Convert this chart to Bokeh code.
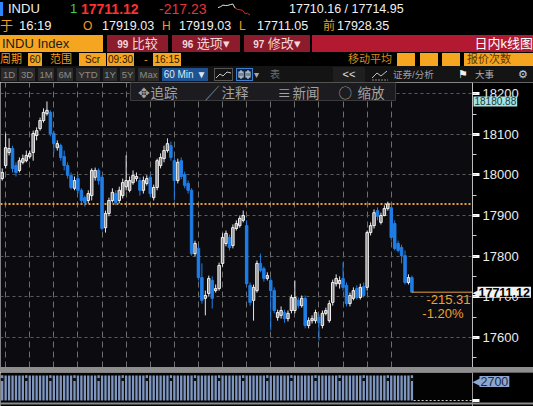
import numpy as np
from bokeh.plotting import figure
from bokeh.models import (Range1d, Span, Label, BoxAnnotation, FixedTicker, LinearAxis,
                          SingleIntervalTicker, Div, ColumnDataSource)
from bokeh.layouts import column
from bokeh.embed import file_html
from bokeh.resources import INLINE

# ---------------- data (INDU, 60-minute bars) ----------------
opens = [17991, 18023, 18055, 18065, 18023, 18011, 18031, 18035, 18045, 18055,
         18097, 18114, 18134, 18151, 18154, 18102, 18067, 18072, 18045, 18023,
         17999, 17967, 17991, 17962, 17944, 17937, 17949, 17994, 18011, 17994,
         17870, 17905, 17937, 17954, 17937, 17949, 17971, 17962, 17981, 17991,
         17986, 17962, 17979, 17994, 17944, 17969, 18023, 18040, 18060, 18072,
         18035, 17986, 18035, 18001, 17979, 17962, 17806, 17819, 17747, 17696,
         17708, 17740, 17715, 17720, 17782, 17831, 17846, 17826, 17868, 17875,
         17888, 17875, 17728, 17691, 17715, 17782, 17769, 17745, 17740, 17715,
         17649, 17654, 17661, 17646, 17666, 17666, 17691, 17678, 17696, 17629,
         17641, 17641, 17649, 17629, 17659, 17641, 17686, 17732, 17732, 17745,
         17728, 17683, 17696, 17720, 17698, 17725, 17723, 17858, 17875, 17912,
         17883, 17900, 17917, 17919.03, 17880, 17831, 17821, 17801, 17735, 17747]
highs = [18016, 18102, 18090, 18072, 18031, 18043, 18050, 18060, 18060, 18109,
         18117, 18141, 18164, 18180.88, 18159, 18109, 18085, 18077, 18060, 18031,
         18006, 17996, 17999, 17967, 17949, 17962, 18016, 18018, 18016, 17999,
         17912, 17944, 17967, 17962, 17971, 17991, 18048, 17996, 18011, 18006,
         17994, 17996, 17999, 18001, 17976, 18040, 18053, 18072, 18090, 18082,
         18043, 18040, 18043, 18008, 17986, 17967, 17838, 17826, 17782, 17715,
         17752, 17750, 17730, 17784, 17856, 17863, 17853, 17878, 17888, 17900,
         17912, 17888, 17735, 17730, 17789, 17806, 17774, 17760, 17747, 17723,
         17668, 17676, 17668, 17666, 17705, 17740, 17698, 17703, 17703, 17649,
         17654, 17668, 17656, 17666, 17673, 17691, 17742, 17755, 17750, 17784,
         17735, 17710, 17723, 17728, 17732, 17735, 17863, 17883, 17915, 17920,
         17907, 17925, 17934, 17919.03, 17888, 17838, 17828, 17814, 17755, 17752]
lows = [17986, 18016, 18048, 18006, 17996, 18006, 18026, 18031, 18040, 18035,
        18085, 18109, 18129, 18146, 18095, 18055, 18060, 18035, 18011, 17991,
        17964, 17962, 17954, 17930, 17922, 17930, 17937, 17986, 17976, 17863,
        17858, 17898, 17932, 17925, 17930, 17942, 17962, 17957, 17976, 17984,
        17949, 17954, 17974, 17947, 17937, 17962, 18016, 18031, 18055, 18035,
        17937, 17979, 17989, 17967, 17954, 17801, 17799, 17740, 17683, 17654,
        17700, 17671, 17710, 17715, 17774, 17824, 17814, 17819, 17863, 17870,
        17883, 17728, 17678, 17641, 17710, 17760, 17737, 17740, 17617, 17659,
        17641, 17646, 17636, 17639, 17659, 17659, 17671, 17673, 17622, 17622,
        17634, 17634, 17592, 17622, 17654, 17636, 17678, 17725, 17720, 17715,
        17676, 17676, 17691, 17693, 17693, 17698, 17715, 17851, 17868, 17888,
        17878, 17898, 17912, 17838, 17814, 17809, 17782, 17730, 17730, 17711.05]
closes = [18006, 18067, 18065, 18016, 18006, 18035, 18040, 18048, 18053, 18102,
          18109, 18134, 18154, 18159, 18102, 18077, 18077, 18043, 18023, 17999,
          17969, 17986, 17962, 17937, 17932, 17954, 18011, 18011, 17986, 17868,
          17905, 17937, 17957, 17932, 17962, 17981, 17986, 17986, 17999, 17996,
          17962, 17986, 17991, 17954, 17969, 18035, 18043, 18060, 18077, 18043,
          17986, 18031, 17996, 17974, 17962, 17806, 17831, 17747, 17691, 17703,
          17745, 17696, 17720, 17777, 17846, 17856, 17821, 17870, 17880, 17893,
          17900, 17732, 17686, 17723, 17782, 17765, 17745, 17752, 17715, 17666,
          17661, 17666, 17646, 17659, 17698, 17698, 17678, 17696, 17629, 17641,
          17646, 17661, 17636, 17659, 17666, 17683, 17735, 17745, 17740, 17723,
          17683, 17703, 17715, 17698, 17723, 17703, 17858, 17875, 17907, 17898,
          17900, 17917, 17928.35, 17846, 17819, 17814, 17801, 17735, 17747, 17711.12]
volumes = [3578, 3552, 3560, 3548, 3566, 3555, 3561, 3582, 3549, 3557,
           3562, 3551, 3568, 3554, 3585, 3553, 3559, 3550, 3564, 3556,
           3561, 3579, 3551, 3566, 3548, 3558, 3562, 3553, 3581, 3556,
           3549, 3567, 3552, 3560, 3555, 3584, 3550, 3563, 3557, 3552,
           3565, 3551, 3580, 3558, 3549, 3562, 3554, 3566, 3550, 3583,
           3557, 3563, 3551, 3568, 3554, 3559, 3586, 3552, 3560, 3549,
           3564, 3556, 3553, 3581, 3550, 3561, 3555, 3567, 3551, 3558,
           3582, 3553, 3562, 3549, 3565, 3557, 3552, 3584, 3556, 3550,
           3563, 3551, 3559, 3554, 3580, 3552, 3566, 3550, 3561, 3555,
           3558, 3583, 3551, 3564, 3553, 3560, 3549, 3567, 3581, 3555,
           3550, 3562, 3557, 3552, 3565, 3579, 3556, 3553, 3561, 3549,
           3566, 3554, 3585, 3551, 3560, 3555, 3563, 3550, 3558, 3587]

bars_per_day = 7
first_day_bar = 1
prev_close = 17928.35
range_high = 18180.88
net_change_text = "-215.31"
pct_change_text = "-1.20%"
volume_mark = 2700

q_last = "17711.12"
q_change = "-217.23"
q_bid_ask = "17710.16 / 17714.95"
q_time = "16:19"
q_open = "17919.03"
q_high = "17919.03"
q_low = "17711.05"
q_prev = "17928.35"

# ---------------- layout helpers (pixel geometry) ----------------
PX_PER_BAR = 3.443
BAR0_PX = 1.7
PX_PER_PT = 0.406
REF_Y_17900 = 215.0


def px2x(px):
    return (px - BAR0_PX) / PX_PER_BAR


def py2y(py):
    return 17900 + (REF_Y_17900 - py) / PX_PER_PT


N = len(closes)
X_START, X_END = px2x(0), px2x(533)
AXIS_X = px2x(472)
Y_END, Y_START = py2y(82), py2y(367)
FONT = "Liberation Sans"
ORANGE = "#f0a030"

# ---------------- header (HTML) ----------------
F = "'Liberation Sans','Noto Sans CJK SC',sans-serif"
OR = "#f39c1f"
DARK = "#2a1800"


def cell(x, y, w, h, txt="", color="#f0f0f0", bg="transparent", size=13, weight="normal",
         align="left", pad=0, border=None):
    st = (f"position:absolute;left:{x}px;top:{y}px;width:{w}px;height:{h}px;line-height:{h}px;"
          f"color:{color};background:{bg};font-size:{size}px;font-weight:{weight};text-align:{align};"
          f"padding:0 {pad}px;box-sizing:border-box;white-space:nowrap;overflow:hidden;")
    if border:
        st += f"border:1px solid {border};"
    return f'<div style="{st}">{txt}</div>'


sp = closes[-14:]
lo_, hi_ = min(sp), max(sp)
pts = [(round(i * 32 / (len(sp) - 1), 1), round(13 - (v - lo_) / (hi_ - lo_) * 11, 1)) for i, v in enumerate(sp)]
last_day_start = first_day_bar + bars_per_day * ((N - 1 - first_day_bar) // bars_per_day)
split = len(sp) - (N - last_day_start)
white_pts = " ".join(f"{a},{b}" for a, b in pts[:split + 1])
red_pts = " ".join(f"{a},{b}" for a, b in pts[split:])
spark = (f'<svg style="position:absolute;left:218px;top:2px" width="34" height="15">'
         f'<polyline points="{white_pts}" stroke="#e8e8e8" fill="none" stroke-width="1"/>'
         f'<polyline points="{red_pts}" stroke="#e02424" fill="none" stroke-width="1"/></svg>')

parts = [
    cell(0, 2, 3, 14, bg="#2e86ff"),
    cell(8, 0, 50, 18, "INDU", size=13),
    cell(70, 0, 8, 18, "1", color="#3fcf50", size=13),
    cell(81, 0, 72, 18, q_last, color="#ff3030", size=14, weight="bold"),
    cell(159, 0, 60, 18, q_change, color="#e5343a", size=14),
    spark,
    cell(289, 0, 130, 18, q_bid_ask, size=12.5),
    cell(0, 18, 16, 16, "于", color=OR, size=13),
    cell(19, 18, 45, 16, q_time, size=13),
    cell(83, 18, 12, 16, "O", color=OR, size=12),
    cell(102, 18, 60, 16, q_open, size=12.5),
    cell(162, 18, 12, 16, "H", color=OR, size=12),
    cell(179, 18, 60, 16, q_high, size=12.5),
    cell(239, 18, 12, 16, "L", color=OR, size=12),
    cell(257, 18, 60, 16, q_low, size=12.5),
    cell(323, 18, 14, 16, "前", color=OR, size=12),
    cell(337, 18, 60, 16, q_prev, size=12.5),
    cell(0, 35, 103, 17, "INDU Index", color="#1b1b1b", bg="#f5a51f", size=13, pad=2),
    cell(107, 35, 61, 17, "<b style='font-size:10px'>99</b> 比较", color="#f4d6da", bg="#8c1c2c", size=13, align="center"),
    cell(172, 35, 68, 17, "<b style='font-size:10px'>96</b> 选项▾", color="#f4d6da", bg="#8c1c2c", size=13, align="center"),
    cell(244, 35, 66, 17, "<b style='font-size:10px'>97</b> 修改▾", color="#f4d6da", bg="#8c1c2c", size=13, align="center"),
    cell(312, 35, 221, 17, "日内k线图", color="#ffffff", bg="#b31a31", size=13, align="right"),
    cell(0, 53, 24, 13, "周期", color=OR, size=11),
    cell(28, 53, 14, 13, "60", color=DARK, bg="#f5a51f", size=10, align="center"),
    cell(50, 53, 24, 13, "范围", color=OR, size=11),
    cell(79, 53, 27, 13, "Scr", color=DARK, bg="#f5a51f", size=10, align="center"),
    cell(107, 53, 27, 13, "09:30", color=DARK, bg="#f5a51f", size=10, align="center"),
    cell(144, 53, 6, 13, "-", color=OR, size=11),
    cell(153, 53, 28, 13, "16:15", color=DARK, bg="#f5a51f", size=10, align="center"),
    cell(348, 53, 46, 13, "移动平均", color="#d88a1c", size=11),
    cell(397, 53, 18, 13, bg="#f5a51f"),
    cell(420, 53, 18, 13, bg="#f5a51f"),
    cell(442, 53, 18, 13, bg="#f5a51f"),
    cell(464, 53, 69, 13, "报价次数", color="#5b3500", bg="#f5a51f", size=11, pad=3),
    cell(0, 66, 533, 16, bg="#141414"),
]
for bx, bw, bt in [(1, 16, "1D"), (19, 16, "3D"), (38, 16, "1M"), (57, 16, "6M"), (76, 24, "YTD"),
                   (103, 14, "1Y"), (120, 15, "5Y"), (138, 21, "Max")]:
    parts.append(cell(bx, 68, bw, 13, bt, color="#8c8c8c", bg="#2b2b2b", size=9.5, align="center"))
parts += [
    cell(162, 68, 46, 13, "60 Min ▼", color="#dde7f5", bg="#1f5291", size=10, align="center"),
    '<svg style="position:absolute;left:214px;top:68px" width="19" height="13">'
    '<rect x="0.5" y="0.5" width="18" height="12" fill="none" stroke="#555"/>'
    '<polyline points="2,10 6,6 9,8 13,4 17,5" stroke="#c8c8c8" fill="none"/></svg>',
    '<svg style="position:absolute;left:236px;top:68px" width="17" height="13">'
    '<rect x="0.5" y="0.5" width="16" height="12" fill="#13243a" stroke="#3d7fd0"/>'
    '<line x1="5" y1="2" x2="5" y2="11" stroke="#d8e6f8"/><rect x="3" y="4" width="4" height="5" fill="none" stroke="#d8e6f8"/>'
    '<line x1="12" y1="2" x2="12" y2="11" stroke="#d8e6f8"/><rect x="10" y="4" width="4" height="5" fill="none" stroke="#d8e6f8"/></svg>',
    cell(254, 68, 9, 13, "▾", color="#aaaaaa", size=10),
    cell(270, 68, 12, 13, "表", color="#6e6e6e", size=10),
    cell(333, 67, 32, 15, "&lt;&lt;", color="#e0e0e0", bg="#1f1f1f", size=11, align="center"),
    '<svg style="position:absolute;left:371px;top:68px" width="18" height="13">'
    '<polyline points="1,10 6,5 10,8 16,3" stroke="#c0c0c0" fill="none"/>'
    '<line x1="1" y1="12" x2="17" y2="12" stroke="#888" stroke-dasharray="2 1"/></svg>',
    cell(393, 68, 52, 13, "证券/分析", color="#a0a0a0", size=9.5),
    cell(458, 68, 12, 13, "⚑", color="#f0f0f0", size=11),
    cell(475, 68, 30, 13, "大事", color="#b0b0b0", size=9.5),
    cell(518, 68, 14, 13, "⚙", color="#d0d0d0", size=11),
]
header_html = (f'<div style="position:relative;width:533px;height:82px;background:#000;font-family:{F};">'
               + "".join(parts) + "</div>")
header = Div(text=header_html, width=533, height=82, margin=0,
             styles={"overflow": "hidden", "background-color": "#000"})

# ---------------- main candlestick chart ----------------
p = figure(width=533, height=285, x_range=Range1d(X_START, X_END), y_range=Range1d(Y_START, Y_END),
           output_backend="svg", toolbar_location=None, x_axis_location=None, y_axis_location=None,
           min_border_left=0, min_border_right=0, min_border_top=0, min_border_bottom=0,
           background_fill_color="#0b0b10", border_fill_color="#000000", outline_line_color=None)

day_starts = list(range(first_day_bar, N, bars_per_day))
p.xgrid.ticker = FixedTicker(ticks=day_starts)
p.xgrid.grid_line_color = "#6e6e6e"
p.xgrid.grid_line_dash = "6 4"
price_ticker = SingleIntervalTicker(interval=100, num_minor_ticks=2)
p.ygrid.ticker = price_ticker
p.ygrid.grid_line_color = "#5a5a5a"
p.ygrid.grid_line_dash = "3 3"

# axis area (right of the price axis) is black
p.add_layout(BoxAnnotation(left=AXIS_X, fill_color="#000000", fill_alpha=1, line_color=None,
                           level="underlay"))

x = np.arange(N)
o = np.array(opens, dtype=float)
c = np.array(closes, dtype=float)
h = np.array(highs, dtype=float)
l = np.array(lows, dtype=float)
up = c >= o


def src(mask):
    return ColumnDataSource(dict(x=x[mask], top=np.maximum(o, c)[mask], bottom=np.minimum(o, c)[mask],
                                 high=h[mask], low=l[mask]))


p.segment(x0=[X_START], y0=[prev_close], x1=[AXIS_X], y1=[prev_close], line_color="#f0a030",
          line_dash="2 2", line_width=2)

for mask, wick, fill, line in [(up, "#e6e6e6", "#8a8a8a", "#f2f2f2"),
                               (~up, "#1f7ee6", "#1f7ee6", "#1f7ee6")]:
    s = src(mask)
    p.segment(x0="x", y0="low", x1="x", y1="high", source=s, line_color=wick, line_width=1)
    p.vbar(x="x", width=0.72, top="top", bottom="bottom", source=s,
           fill_color=fill, line_color=line, line_width=1)

last = closes[-1]
p.segment(x0=[N - 1], y0=[last], x1=[AXIS_X], y1=[last], line_color="#e8a040", line_width=1)

# price axis drawn at the right edge of the chart area
yaxis = LinearAxis(ticker=price_ticker, fixed_location=AXIS_X)
yaxis.axis_line_color = "#bdbdbd"
yaxis.major_tick_line_color = "#ffffff"
yaxis.major_tick_out = 7
yaxis.major_tick_in = 0
yaxis.major_tick_line_width = 3
yaxis.minor_tick_line_color = "#cfcfcf"
yaxis.minor_tick_out = 4
yaxis.minor_tick_in = 0
yaxis.major_label_text_color = "#ececec"
yaxis.major_label_text_font = FONT
yaxis.major_label_text_font_size = "13px"
yaxis.major_label_standoff = 3
p.add_layout(yaxis, "right")

# floating tool panel
p.add_layout(BoxAnnotation(left=px2x(130), right=px2x(395), top=Y_END, bottom=py2y(100),
                           fill_color="#1c1c20", fill_alpha=1, line_color="#3b3b3b", line_alpha=1))
for txt, px in [("✥", 137), ("追踪", 150), ("╱", 205), ("注释", 221), ("≡", 277),
                ("新闻", 292), ("○", 338), ("缩放", 357)]:
    p.add_layout(Label(x=px2x(px), y=py2y(91), text=txt, text_baseline="middle",
                       text_color="#a3a3a3", text_font="Noto Sans CJK SC", text_font_size="13.5px"))

p.add_layout(Label(x=AXIS_X, y=range_high, text=f"{range_high:.2f}", x_offset=1, text_baseline="middle",
                   text_font=FONT, text_font_size="10px", text_color="#123c3c",
                   background_fill_color="#a8e2e2", padding=1))
p.add_layout(Label(x=AXIS_X, y=last, text="◀", x_offset=0, text_baseline="middle",
                   text_color="#f2f2f2", text_font="DejaVu Sans", text_font_size="11px"))
p.add_layout(Label(x=AXIS_X, y=last, text=f"{last:.2f}", x_offset=5, text_baseline="middle",
                   text_font=FONT, text_font_style="bold", text_font_size="12.5px", text_color="#000000",
                   background_fill_color="#f2f2f2", padding=1))
p.add_layout(Label(x=AXIS_X, y=last - 7.3 / PX_PER_PT, text=net_change_text, x_offset=-2,
                   text_align="right", text_baseline="middle", text_font=FONT,
                   text_font_size="13px", text_color=ORANGE))
p.add_layout(Label(x=AXIS_X, y=last - 21.3 / PX_PER_PT, text=pct_change_text, x_offset=-9,
                   text_align="right", text_baseline="middle", text_font=FONT,
                   text_font_size="13px", text_color=ORANGE))

# ---------------- separator band ----------------
band = Div(text="", width=533, height=5, margin=0, styles={"background-color": "#8e8e8e"})

# ---------------- volume panel ----------------
VOL_TOP = volume_mark / 0.76
v = figure(width=533, height=34, x_range=p.x_range, y_range=Range1d(-0.24 * VOL_TOP, 1.12 * VOL_TOP),
           output_backend="svg", toolbar_location=None, x_axis_location=None, y_axis_location=None,
           min_border_left=0, min_border_right=0, min_border_top=0, min_border_bottom=0,
           background_fill_color="#030303", border_fill_color="#000000", outline_line_color=None)
v.xgrid.visible = False
v.ygrid.visible = False
v.add_layout(BoxAnnotation(left=AXIS_X, fill_color="#000000", fill_alpha=1, line_color=None,
                           level="underlay"))
v.vbar(x=x, top=volumes, bottom=0, width=0.68, fill_color="#7f97c0", line_color=None)
close_bars = list(range(0, N, bars_per_day))
v.scatter(x=close_bars, y=[0.84 * VOL_TOP] * len(close_bars), marker="square", size=3,
          fill_color="#111111", line_color=None)
v.segment(x0=[N - 0.5], y0=[0], x1=[AXIS_X], y1=[0], line_color="#cccccc", line_dash="2 2", line_width=1)
v.add_layout(Span(location=-0.12 * VOL_TOP, dimension="width", line_color="#8a8a8a", line_width=2))
vaxis = LinearAxis(ticker=FixedTicker(ticks=[0]), fixed_location=AXIS_X)
vaxis.major_label_text_alpha = 0
vaxis.major_label_text_font_size = "8px"
vaxis.axis_line_color = "#9a9a9a"
vaxis.major_tick_line_color = "#ffffff"
vaxis.major_tick_out = 7
vaxis.major_tick_in = 0
vaxis.major_tick_line_width = 3
vaxis.minor_tick_line_color = None
v.add_layout(vaxis, "right")
v.add_layout(Label(x=AXIS_X, y=volume_mark, text="◀", x_offset=0, text_baseline="middle",
                   text_color="#8ea7cf", text_font="DejaVu Sans", text_font_size="11px"))
v.add_layout(Label(x=AXIS_X, y=volume_mark, text=f"{volume_mark}", x_offset=7, text_baseline="middle",
                   text_font=FONT, text_font_size="12.5px", text_color="#1b2a48",
                   background_fill_color="#8ea7cf", padding=1))

layout = column(header, p, band, v)
open("out.html", "w").write(file_html(layout, INLINE))
